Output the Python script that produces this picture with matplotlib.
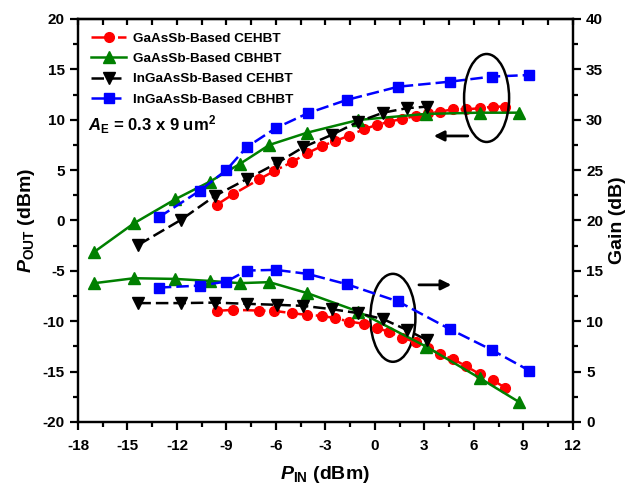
import numpy as np
import matplotlib.pyplot as plt
from matplotlib.patches import Ellipse
from matplotlib.ticker import MultipleLocator

plt.rcParams['font.family'] = ['Liberation Sans', 'DejaVu Sans']
plt.rcParams['font.weight'] = 'bold'
plt.rcParams['axes.unicode_minus'] = False
plt.rcParams['mathtext.fontset'] = 'custom'
plt.rcParams['mathtext.rm'] = 'Liberation Sans:bold'
plt.rcParams['mathtext.it'] = 'Liberation Sans:italic:bold'
plt.rcParams['mathtext.bf'] = 'Liberation Sans:bold'

# Output power (dBm) and gain (dB) vs input power (dBm)
pin_ga_ce = [-9.6, -8.6, -7.0, -6.1, -5.05, -4.1, -3.2, -2.4, -1.55, -0.67, 0.1, 0.87,
             1.65, 2.48, 3.23, 3.94, 4.75, 5.55, 6.36, 7.17, 7.88]
pout_ga_ce = [1.55, 2.6, 4.1, 4.92, 5.78, 6.68, 7.4, 7.9, 8.42, 9.06, 9.48, 9.81,
              10.08, 10.38, 10.64, 10.8, 11.04, 11.04, 11.14, 11.3, 11.3]
gain_ga_ce = [11.03, 11.13, 11.06, 11.03, 10.8, 10.63, 10.53, 10.3, 9.97, 9.74, 9.37, 8.92,
              8.38, 7.92, 7.33, 6.73, 6.24, 5.51, 4.75, 4.12, 3.42]

pin_ga_cb = [-17.0, -14.6, -12.1, -10.0, -8.2, -6.4, -4.1, -1.0, 3.1, 6.36, 8.75]
pout_ga_cb = [-3.1, -0.27, 2.11, 3.86, 5.6, 7.5, 8.72, 9.98, 10.58, 10.7, 10.7]
gain_ga_cb = [13.78, 14.27, 14.2, 14.0, 13.78, 13.88, 12.79, 10.96, 7.49, 4.35, 1.97]

pin_in_ce = [-14.34, -11.76, -9.7, -7.78, -5.96, -4.35, -2.63, -1.0, 0.5, 1.92, 3.13]
pout_in_ce = [-2.42, 0.06, 2.44, 4.1, 5.68, 7.27, 8.49, 9.81, 10.7, 11.14, 11.3]
gain_in_ce = [11.8, 11.8, 11.85, 11.73, 11.63, 11.53, 11.2, 10.8, 10.21, 9.15, 8.15]

pin_in_cb = [-13.1, -10.6, -9.0, -7.78, -6.02, -4.08, -1.72, 1.41, 4.55, 7.07, 9.35]
pout_in_cb = [0.32, 2.97, 5.02, 7.27, 9.16, 10.64, 11.96, 13.28, 13.78, 14.28, 14.44]
gain_in_cb = [13.34, 13.54, 13.94, 15.03, 15.1, 14.7, 13.68, 11.96, 9.21, 7.16, 5.11]

labels = ['GaAsSb-Based CEHBT', 'GaAsSb-Based CBHBT',
          'InGaAsSb-Based CEHBT', 'InGaAsSb-Based CBHBT']

fig = plt.figure(figsize=(6.28, 4.87), dpi=100)
ax = fig.add_axes([0.1242, 0.1335, 0.788, 0.8275])
ax2 = ax.twinx()

lw = 1.8
dash = (0, (5, 2))
ax.plot(pin_ga_ce, pout_ga_ce, color='red', ls='-.', lw=lw, marker='o', ms=7, label=labels[0])
ax.plot(pin_ga_cb, pout_ga_cb, color='#008000', ls='-', lw=lw, marker='^', ms=8, label=labels[1])
ax.plot(pin_in_ce, pout_in_ce, color='black', ls=dash, lw=lw, marker='v', ms=8, label=labels[2])
ax.plot(pin_in_cb, pout_in_cb, color='blue', ls=dash, lw=lw, marker='s', ms=6.5, label=labels[3])

ax2.plot(pin_ga_ce, gain_ga_ce, color='red', ls='-.', lw=lw, marker='o', ms=7)
ax2.plot(pin_ga_cb, gain_ga_cb, color='#008000', ls='-', lw=lw, marker='^', ms=8)
ax2.plot(pin_in_ce, gain_in_ce, color='black', ls=dash, lw=lw, marker='v', ms=8)
ax2.plot(pin_in_cb, gain_in_cb, color='blue', ls=dash, lw=lw, marker='s', ms=6.5)

ax.set_xlim(-18, 12)
ax.set_ylim(-20, 20)
ax2.set_ylim(0, 40)
ax.xaxis.set_major_locator(MultipleLocator(3))
ax.xaxis.set_minor_locator(MultipleLocator(1.5))
ax.yaxis.set_major_locator(MultipleLocator(5))
ax.yaxis.set_minor_locator(MultipleLocator(2.5))
ax2.yaxis.set_major_locator(MultipleLocator(5))
ax2.yaxis.set_minor_locator(MultipleLocator(2.5))

for a in (ax, ax2):
    for s in a.spines.values():
        s.set_linewidth(1.6)
    a.tick_params(which='major', direction='out', length=6, width=1.6, labelsize=11)
    a.tick_params(which='minor', direction='out', length=3.5, width=1.6)
ax.tick_params(axis='x', pad=6)

# inward ticks along the top edge
top = ax.secondary_xaxis('top')
top.xaxis.set_major_locator(MultipleLocator(3))
top.xaxis.set_minor_locator(MultipleLocator(1.5))
top.tick_params(which='both', direction='in', length=4, width=1.6, labeltop=False)
top.spines['top'].set_linewidth(1.6)

ax.set_xlabel(r'$P_{\mathrm{IN}}$ (dBm)', fontsize=14, fontweight='bold', labelpad=8)
ax.set_ylabel(r'$P_{\mathrm{OUT}}$ (dBm)', fontsize=14, fontweight='bold', labelpad=4)
ax2.set_ylabel('Gain (dB)', fontsize=14, fontweight='bold', labelpad=4)

ax.legend(loc='upper left', frameon=False, handlelength=2.6,
          borderaxespad=0.6, labelspacing=0.58, handletextpad=0.5,
          prop={'weight': 'bold', 'size': 9.7})

ax.text(-17.4, 9.48, r'$A_{\mathrm{E}}$ = 0.3 x 9 um$^{2}$', fontsize=12, fontweight='bold',
        va='center', ha='left')

# circles and arrows
ax.add_patch(Ellipse((6.77, 12.16), 2.73, 8.73, fill=False, lw=1.8, ec='black', zorder=5))
ax.add_patch(Ellipse((1.09, -9.66), 2.73, 8.73, fill=False, lw=1.8, ec='black', zorder=5))
ax.annotate('', xy=(3.4, 8.39), xytext=(5.8, 8.39),
            arrowprops=dict(arrowstyle='-|>', color='black', lw=2, mutation_scale=15))
ax.annotate('', xy=(4.8, -6.39), xytext=(2.5, -6.39),
            arrowprops=dict(arrowstyle='-|>', color='black', lw=2, mutation_scale=15))

fig.savefig('out.png', dpi=100)
